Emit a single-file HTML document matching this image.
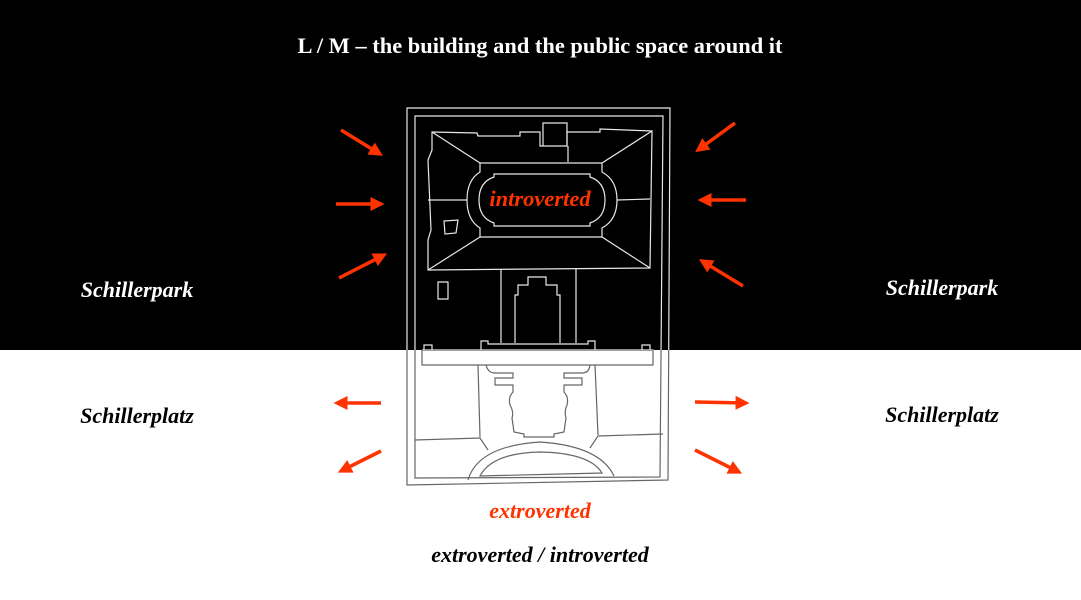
<!DOCTYPE html>
<html><head><meta charset="utf-8"><style>
html,body{margin:0;padding:0;width:1081px;height:600px;overflow:hidden;background:#fff}
svg{display:block}
text{font-family:"Liberation Serif",serif;font-weight:bold}
</style></head><body>
<svg width="1081" height="600" viewBox="0 0 1081 600" xmlns="http://www.w3.org/2000/svg">
<defs>
<clipPath id="top"><rect x="0" y="0" width="1081" height="350"/></clipPath>
<clipPath id="bot"><rect x="0" y="350" width="1081" height="250"/></clipPath>
<marker id="ah" markerWidth="4" markerHeight="4" refX="3" refY="2" orient="auto" markerUnits="strokeWidth">
<path d="M0,0 L4,2 L0,4 z" fill="#ff3300"/></marker>
<g id="plan" fill="none" stroke-width="1.2">
<path d="M407,108 L670,108 L668,480 L407,485 Z"/>
<path d="M415,116 L663,116 L660,477 L415,478 Z"/>
<path d="M432,132 L477,133 L478,136 L520,136 L520,132 L540,132 L540,146 L567,146 L567,132 L600,132 L600,129 L652,131 L650,268 L428,270 L428,240 L431,230 L428,160 L432,150 Z"/>
<path d="M543,146 L543,123 L567,123 L567,145"/>
<path d="M568,146 L568,162"/>
<path d="M480,163 L602,163 M480,237 L602,237"/>
<path d="M480,163 L480,172 Q467,180 467,200 Q467,220 480,228 L480,237 M602,163 L602,172 Q617,180 617,200 Q617,220 602,228 L602,237"/>
<path d="M432,132 L480,163 M652,131 L602,163 M428,270 L480,237 M650,268 L602,237"/>
<path d="M494,174 L590,174 L590,177 Q605,182 605,200 Q605,218 590,223 L590,226 L494,226 L494,223 Q479,218 479,200 Q479,182 494,177 Z"/>
<path d="M428,200 L467,200 M617,200 L650,199"/>
<path d="M444,221 L458,220 L456,233 L445,234 Z"/>
<path d="M438,282 L448,282 L448,299 L438,299 Z"/>
<path d="M501,269 L501,343 M576,268 L576,343"/>
<path d="M515,343 L515,295 L518,295 L518,285 L528,285 L528,277 L546,277 L546,285 L557,285 L557,295 L560,295 L560,343"/>
<path d="M481,350 L481,341 L488,341 L488,344 L588,344 L588,341 L595,341 L595,350"/>
<path d="M422,350 L422,365 L653,365 L653,350 L422,350 M424,350 L424,345 L432,345 L432,350 M642,350 L642,345 L650,345 L650,350"/>
<path d="M478,365 L480,437 M595,365 L598,435"/>
<path d="M486,365 Q488,373 495,373 L513,373 L513,378 L495,378 L495,385 L513,385 L513,392 Q508,397 510,405 Q514,412 512,418 L514,432 L524,434 L524,437 L554,437 L554,434 L564,432 L566,418 Q564,412 567,405 Q569,397 564,392 L564,385 L582,385 L582,378 L564,378 L564,373 L582,373 Q589,373 590,365"/>
<path d="M415,440 L480,438 L488,450 M663,434 L598,436 L590,448"/>
<path d="M468,480 Q478,446 540,442 Q600,446 614,476"/>
<path d="M480,476 Q492,453 540,452 Q590,453 602,473 Z"/>
</g>
</defs>
<rect x="0" y="0" width="1081" height="350" fill="#000"/>
<use href="#plan" stroke="#e8e8e8" clip-path="url(#top)"/>
<use href="#plan" stroke="#666" clip-path="url(#bot)"/>
<g stroke="#ff3300" stroke-width="3.5" marker-end="url(#ah)">
<line x1="341" y1="130" x2="380" y2="154"/>
<line x1="336" y1="204" x2="381" y2="204"/>
<line x1="339" y1="278" x2="384" y2="255"/>
<line x1="735" y1="123" x2="698" y2="150"/>
<line x1="746" y1="200" x2="701" y2="200"/>
<line x1="743" y1="286" x2="702" y2="261"/>
<line x1="381" y1="403" x2="337" y2="403"/>
<line x1="381" y1="451" x2="341" y2="471"/>
<line x1="695" y1="402" x2="746" y2="403"/>
<line x1="695" y1="450" x2="739" y2="472"/>
</g>
<text x="540" y="53" fill="#fff" font-size="22" text-anchor="middle" textLength="485" lengthAdjust="spacingAndGlyphs">L / M – the building and the public space around it</text>
<text x="540" y="206" fill="#ff3300" font-size="22.5" font-style="italic" text-anchor="middle">introverted</text>
<text x="137" y="297" fill="#fff" font-size="22" font-style="italic" text-anchor="middle">Schillerpark</text>
<text x="942" y="295" fill="#fff" font-size="22" font-style="italic" text-anchor="middle">Schillerpark</text>
<text x="137" y="423" fill="#000" font-size="22" font-style="italic" text-anchor="middle">Schillerplatz</text>
<text x="942" y="422" fill="#000" font-size="22" font-style="italic" text-anchor="middle">Schillerplatz</text>
<text x="540" y="518" fill="#ff3300" font-size="22" font-style="italic" text-anchor="middle">extroverted</text>
<text x="540" y="562" fill="#000" font-size="22" font-style="italic" text-anchor="middle">extroverted / introverted</text>
</svg>
</body></html>
